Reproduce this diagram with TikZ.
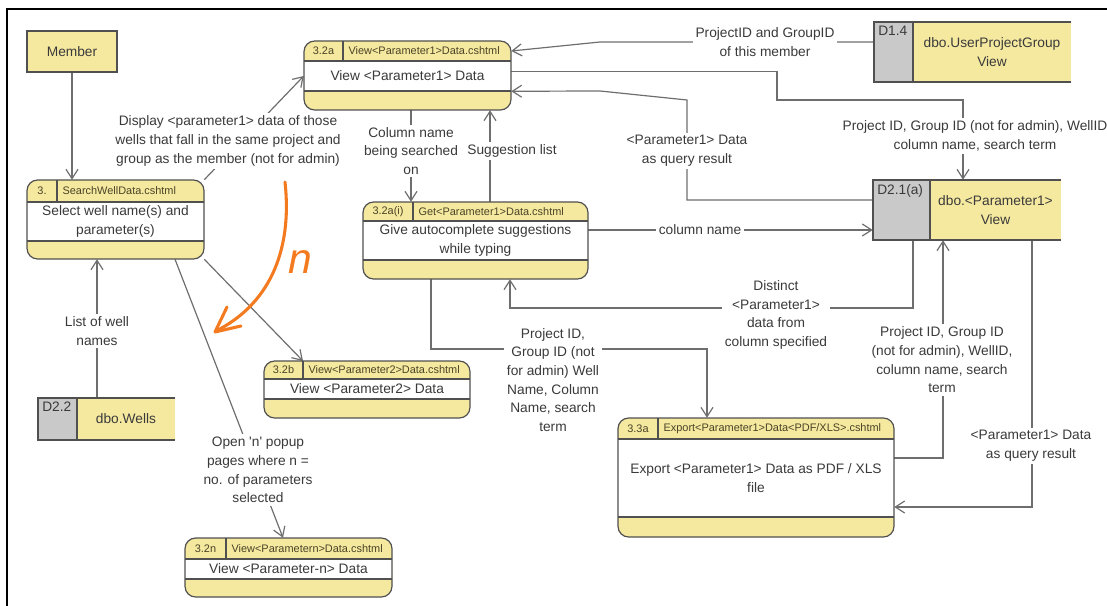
\documentclass[tikz,border=0pt]{standalone}
\usepackage{fontspec}
\setmainfont{Liberation Sans}
\usetikzlibrary{arrows.meta,fit,calc}

\definecolor{procfill}{HTML}{F5E9A0}
\definecolor{storegray}{HTML}{C9C9C9}
\definecolor{edgecol}{HTML}{505050}
\definecolor{flowcol}{HTML}{6E6E6E}
\definecolor{txtcol}{HTML}{3A3A3A}
\definecolor{headtxt}{HTML}{4A4326}
\definecolor{penorange}{HTML}{F47A20}

\pgfdeclarelayer{wires}
\pgfsetlayers{wires,main}

\tikzset{
  procedge/.style={draw=edgecol, line width=0.9pt},
  flow/.style={draw=flowcol, line width=0.9pt, -{Straight Barb[length=7pt,width=9pt]}},
  bodytext/.style={font=\fontsize{10.3}{14}\selectfont, text=txtcol, align=center, inner sep=0pt},
  headtext/.style={font=\fontsize{8.2}{10}\selectfont, text=headtxt, inner sep=0pt},
  flowlabel/.style={font=\fontsize{10.3}{14}\selectfont, text=txtcol, align=center, fill=white, inner sep=2pt},
  boxfit/.style={inner sep=0pt},
  pen/.style={draw=penorange, line width=2.3pt, line cap=round, line join=round},
}

% process: name, left, top, right, bottom, header bottom, body bottom, divider x, number
\newcommand\procbox[9]{%
  \fill[procfill, rounded corners=8pt] (#2,#3) rectangle (#4,#5);
  \fill[white] (#2,#6) rectangle (#4,#7);
  \draw[procedge] (#2,#6) -- (#4,#6) (#2,#7) -- (#4,#7) (#8,#3) -- (#8,#6);
  \draw[procedge, rounded corners=8pt] (#2,#3) rectangle (#4,#5);
  \node[boxfit, fit={(#2,#3) (#4,#5)}] (#1) {};
  \node[boxfit, fit={(#2,#3) (#4,#6)}] (#1-h) {};
  \node[boxfit, fit={(#2,#6) (#4,#7)}] (#1-b) {};
  \coordinate (#1-d) at (#8,#3);
  \node[headtext] (#1-id) at ($(#2,#3)!0.5!(#8,#6)$) {#9};
}
% process texts: name, page file, description
\newcommand\proctext[3]{%
  \node[headtext, anchor=west, xshift=4pt] (#1-file) at (#1-d |- #1-h) {#2};
  \node[bodytext] (#1-body) at (#1-b) {#3};
}
% data store: name, left, top, right, bottom, split x, id
\newcommand\datastore[7]{%
  \fill[procfill] (#6,#3) rectangle (#4,#5);
  \fill[storegray] (#2,#3) rectangle (#6,#5);
  \draw[procedge] (#4,#3) -- (#2,#3) -- (#2,#5) -- (#4,#5) (#6,#3) -- (#6,#5);
  \node[boxfit, fit={(#2,#3) (#4,#5)}] (#1) {};
  \node[boxfit, fit={(#6,#3) (#4,#5)}] (#1-y) {};
  \node[bodytext, anchor=north west, inner sep=3pt] (#1-id) at (#2,#3) {#7};
}

\begin{document}
\begin{tikzpicture}[x=0.75pt, y=-0.75pt]
\useasboundingbox (0,0) rectangle (1107,606);

% outer frame
\draw[line width=1.9pt] (1107,9) -- (7,9) -- (7,606);

% external entity
\node[procedge, fill=procfill, boxfit, fit={(27,31) (117,72)}] (member) {};
\node[bodytext] (member-t) at (member) {Member};

% processes
\procbox{p3}{27}{180}{204}{259}{202}{241}{57}{3.}
\proctext{p3}{SearchWellData.cshtml}{Select well name(s) and\\parameter(s)}

\procbox{p32a}{304}{41}{511}{110}{61}{91}{343}{3.2a}
\proctext{p32a}{View<Parameter1>Data.cshtml}{View <Parameter1> Data}

\procbox{p32ai}{363}{202}{588}{279}{221}{260}{413}{3.2a(i)}
\proctext{p32ai}{Get<Parameter1>Data.cshtml}{Give autocomplete suggestions\\while typing}

\procbox{p32b}{264}{361}{470}{418}{379}{399}{303}{3.2b}
\proctext{p32b}{View<Parameter2>Data.cshtml}{View <Parameter2> Data}

\procbox{p32n}{185}{538}{392}{597}{559}{579}{226}{3.2n}
\proctext{p32n}{View<Parametern>Data.cshtml}{View <Parameter-n> Data}

\procbox{p33a}{618}{418}{894}{537}{439}{517}{658}{3.3a}
\proctext{p33a}{Export<Parameter1>Data<PDF/XLS>.cshtml}{Export <Parameter1> Data as PDF / XLS\\file}

% data stores
\datastore{d14}{874}{22}{1071}{82}{913}{D1.4}
\node[bodytext] (d14-t) at (d14-y) {dbo.UserProjectGroup\\View};
\datastore{d21}{873}{180}{1061}{240}{930}{D2.1(a)}
\node[bodytext] (d21-t) at (d21-y) {dbo.<Parameter1>\\View};
\datastore{d22}{38}{398}{175}{440}{77}{D2.2}
\node[bodytext] (d22-t) at (d22-y) {dbo.Wells};

% flow labels
\node[flowlabel] (lblDisp) at (228,141) {Display <parameter1> data of those\\wells that fall in the same project and\\group as the member (not for admin)};
\node[flowlabel] (lblPG) at (765,42) {ProjectID and GroupID\\of this member};
\node[flowlabel] (lblPGW) at (975,136) {Project ID, Group ID (not for admin), WellID\\column name, search term};
\node[flowlabel] (lblRes1) at (687,151) {<Parameter1> Data\\as query result};
\node[flowlabel] (lblCol) at (411,151) {Column name\\being searched\\on};
\node[flowlabel] (lblSug) at (512,151) {Suggestion list};
\node[flowlabel] (lblColn) at (700,230) {column name};
\node[flowlabel] (lblDist) at (776,315) {Distinct\\<Parameter1>\\data from\\column specified};
\node[flowlabel] (lblExp) at (553,380) {Project ID,\\Group ID (not\\for admin) Well\\Name, Column\\Name, search\\term};
\node[flowlabel] (lblExpQ) at (942,360) {Project ID, Group ID\\(not for admin), WellID,\\column name, search\\term};
\node[flowlabel] (lblRes2) at (1031,446) {<Parameter1> Data\\as query result};
\node[flowlabel] (lblWells) at (97,331) {List of well\\names};
\node[flowlabel] (lblOpen) at (258,470) {Open \textquotesingle n\textquotesingle\ popup\\pages where n =\\no. of parameters\\selected};

% data flows
\begin{pgfonlayer}{wires}
\draw[flow] (member.south) -- (member.south |- p3.north);
\draw[flow] (p3.north east) -- (p32a-b.west);
\draw[flow] (d14.west |- lblPG) -- (600,42) -- (p32a-h.east);
\draw[flow] ([yshift=3pt]p32a.east) -| (777,100) -- (963,100) -- (d21.north -| 963,0);
\draw[flow] (d21.west |- 0,200) -- (687,200) -- (687,100) -- (600,91) -- (p32a-b.south east);
\draw[flow] (lblCol |- p32a.south) -- (lblCol |- p32ai.north);
\draw[flow] (p32ai.north -| 490,0) -- (p32a.south -| 490,0);
\draw[flow] (p32ai.east |- lblColn) -- (d21.west |- lblColn);
\draw[flow] (d21.south -| 913,0) |- (510,308) -- (p32ai.south -| 510,0);
\draw[flow] (p32ai.south -| 431,0) |- (707,349) -- (p33a.north -| 707,0);
\draw[flow] (p33a.east |- 0,458) -| (d21.south -| 943,0);
\draw[flow] (d21.south -| 1032,0) |- (p33a.east |- 0,507);
\draw[flow] (p3.south east) -- (p32b-d);
\draw[flow] (p3.south -| 175,0) -- (p32n.north -| 283,0);
\draw[flow] (d22.north -| 97,0) -- (p3.south -| 97,0);
\end{pgfonlayer}

% hand-drawn note
\draw[pen] (285,182) .. controls (293,255) and (266,306) .. (216,331);
\draw[pen] (227,307) -- (215,332) -- (241,326);
\node[text=penorange, font=\fontsize{32}{32}\selectfont\itshape] (nmark) at (300,262) {n};
\end{tikzpicture}
\end{document}
